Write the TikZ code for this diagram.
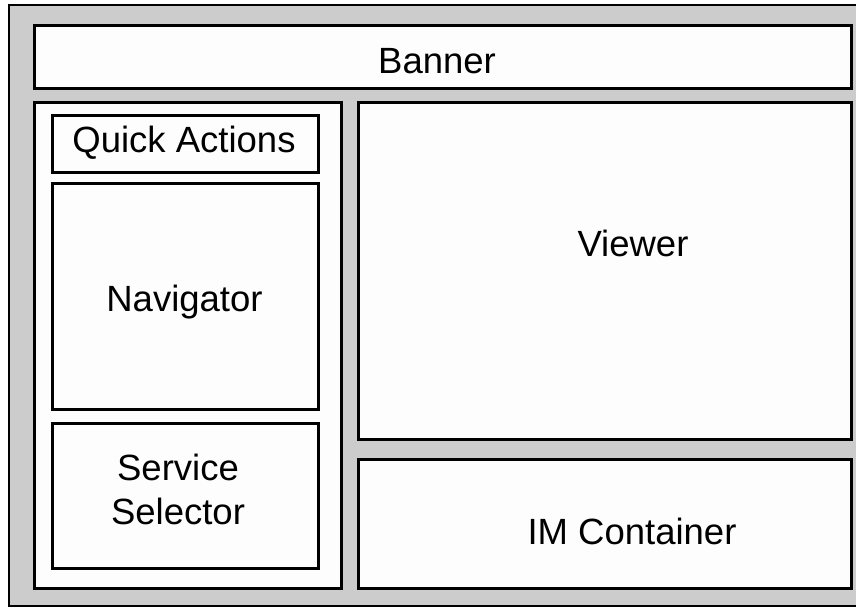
\documentclass[tikz,border=0pt]{standalone}
\usepackage{fontspec}
\setmainfont{Liberation Sans}
\definecolor{bggray}{HTML}{CCCCCC}
\definecolor{boxwhite}{HTML}{FDFDFD}
\tikzset{
  panel/.style={draw=black, line width=2.6pt, fill=boxwhite},
  lbl/.style={anchor=base, inner sep=0pt, font=\fontsize{36.5}{44}\selectfont, align=center}
}
\begin{document}
\begin{tikzpicture}[x=1pt,y=-1pt]
\useasboundingbox (0,0) rectangle (856,608);
\fill[white] (0,0) rectangle (856,608);
\draw[draw=black, line width=2.6pt, fill=bggray] (9,5) rectangle (875,606);
\node[panel, minimum width=817pt, minimum height=63pt, anchor=north west] (banner) at (33,24) {};
\node[panel, minimum width=307pt, minimum height=486pt, anchor=north west] (left) at (33,101) {};
\node[panel, minimum width=266pt, minimum height=57pt, anchor=north west] (quick) at (51,114) {};
\node[panel, minimum width=266pt, minimum height=226pt, anchor=north west] (nav) at (51,182) {};
\node[panel, minimum width=266pt, minimum height=145pt, anchor=north west] (service) at (51,422) {};
\node[panel, minimum width=493pt, minimum height=337pt, anchor=north west] (viewer) at (357,101) {};
\node[panel, minimum width=493pt, minimum height=129pt, anchor=north west] (im) at (357,458) {};
\node[lbl] (tbanner) at (437,73) {Banner};
\node[lbl] (tquick) at (184,152) {Quick Actions};
\node[lbl] (tnav) at (184.5,311) {Navigator};
\node[lbl] (tserv1) at (178,480) {Service};
\node[lbl] (tserv2) at (178,524) {Selector};
\node[lbl] (tviewer) at (633,256) {Viewer};
\node[lbl] (tim) at (632,544) {IM Container};
\end{tikzpicture}
\end{document}
